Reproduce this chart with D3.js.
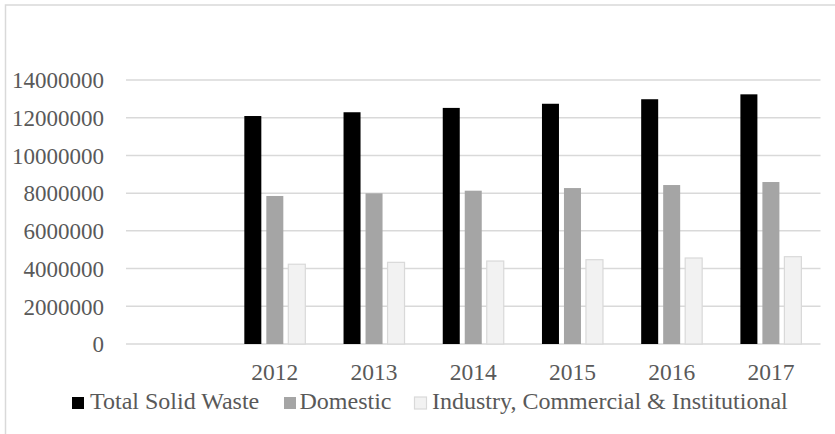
<!DOCTYPE html>
<html lang="en">
<head>
    <meta charset="UTF-8">
    <title>Solid Waste</title>
    <script src="https://cdn.jsdelivr.net/npm/d3@7"></script>
    <style>
        body { margin: 0; background: #fff; }
    </style>
</head>
<body>
<script>
    // data
    var years = ["", "2012", "2013", "2014", "2015", "2016", "2017"];
    var seriesNames = ["Total Solid Waste", "Domestic", "Industry, Commercial & Institutional"];
    var totalWaste = [null, 12090000, 12290000, 12520000, 12740000, 12980000, 13240000];
    var domestic = [null, 7850000, 7990000, 8130000, 8270000, 8430000, 8590000];
    var industry = [null, 4230000, 4330000, 4400000, 4470000, 4560000, 4630000];
    var yTicks = [0, 2000000, 4000000, 6000000, 8000000, 10000000, 12000000, 14000000];

    var colors = ["#000000", "#a5a5a5", "#f2f2f2"];
    var strokes = ["none", "none", "#d9d9d9"];
    var allSeries = [totalWaste, domestic, industry];

    var FONT = "Liberation Serif, Times New Roman, serif";
    var width = 835, height = 434;
    var plot = { left: 126, right: 820.5, top: 80, bottom: 344 };

    var svg = d3.select("body").append("svg").attr("width", width).attr("height", height)
        .attr("font-family", FONT);

    // chart frame (cut off at right and bottom like the original)
    svg.append("rect")
        .attr("x", 5.5).attr("y", 5).attr("width", 840).attr("height", 440)
        .attr("fill", "none").attr("stroke", "#d9d9d9").attr("stroke-width", 1.5);

    var xScale = d3.scaleBand().domain(years).range([plot.left, plot.right]);
    var bw = xScale.bandwidth();
    var innerScale = d3.scaleBand().domain(d3.range(3))
        .range([(bw - 61) / 2, (bw + 61) / 2]).paddingInner(0.227);
    var yScale = d3.scaleLinear().domain([0, 14000000]).range([plot.bottom, plot.top]);

    // gridlines
    svg.append("g").selectAll("line").data(yTicks).enter().append("line")
        .attr("x1", plot.left).attr("x2", plot.right)
        .attr("y1", function (d) { return yScale(d); })
        .attr("y2", function (d) { return yScale(d); })
        .attr("stroke", "#d9d9d9").attr("stroke-width", 1.5);

    // y axis labels
    var yAxis = d3.axisLeft(yScale).tickValues(yTicks).tickSize(0).tickPadding(0)
        .tickFormat(d3.format("d"));
    var gy = svg.append("g").attr("transform", "translate(104,0)").call(yAxis)
        .attr("font-family", FONT).attr("font-size", 23);
    gy.select(".domain").remove();
    gy.selectAll("text").attr("fill", "#595959").attr("dy", "0.34em");

    // x axis labels
    var xAxis = d3.axisBottom(xScale).tickSize(0).tickPadding(0);
    var gx = svg.append("g").attr("transform", "translate(0,380)").call(xAxis)
        .attr("font-family", FONT).attr("font-size", 23.5);
    gx.select(".domain").remove();
    gx.selectAll("text").attr("fill", "#595959").attr("dy", 0);

    // bars
    allSeries.forEach(function (vals, s) {
        svg.append("g").selectAll("rect")
            .data(years.map(function (y, i) { return { year: y, v: vals[i] }; })
                .filter(function (d) { return d.v != null; }))
            .enter().append("rect")
            .attr("x", function (d) { return xScale(d.year) + innerScale(s); })
            .attr("width", innerScale.bandwidth())
            .attr("y", function (d) { return yScale(d.v); })
            .attr("height", function (d) { return plot.bottom - yScale(d.v); })
            .attr("fill", colors[s])
            .attr("stroke", strokes[s])
            .attr("stroke-width", 1.2);
    });

    // legend
    var legendX = [72, 284, 414.5];
    var leg = svg.append("g").selectAll("g").data(seriesNames).enter().append("g")
        .attr("transform", function (d, i) { return "translate(" + legendX[i] + ",397)"; });
    leg.append("rect")
        .attr("width", 12).attr("height", 12)
        .attr("fill", function (d, i) { return colors[i]; })
        .attr("stroke", function (d, i) { return strokes[i]; })
        .attr("stroke-width", 1.2);
    leg.append("text")
        .attr("x", function (d, i) { return i == 2 ? 17.5 : (i == 1 ? 15.5 : 18); })
        .attr("y", 12.3)
        .attr("font-size", 24)
        .attr("fill", "#595959")
        .text(function (d) { return d; });
</script>
</body>
</html>
